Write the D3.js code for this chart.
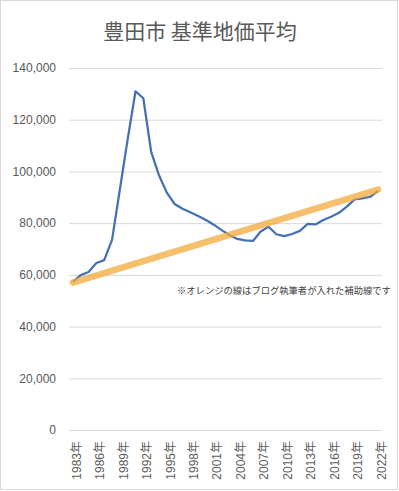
<!DOCTYPE html>
<html><head><meta charset="utf-8">
<script src="https://cdn.jsdelivr.net/npm/d3@7"></script>
<style>body{margin:0;background:#fff}svg{display:block}</style>
</head><body>
<svg id="c" width="399" height="491"></svg>
<script>
const years = d3.range(1983, 2023).map(y => y + "年");
const values = [57300, 59900, 61100, 64600, 65700, 73500, 93000, 112500, 131000, 128300,
  107600, 98500, 91800, 87400, 85600, 84200, 82800, 81200, 79400, 77300,
  75400, 73900, 73300, 73100, 76800, 78600, 75700, 75000, 75800, 77000,
  79700, 79500, 81200, 82500, 84000, 86400, 89200, 89600, 90200, 92500];
const trendStart = 57000, trendEnd = 93000;
const yTicks = [0, 20000, 40000, 60000, 80000, 100000, 120000, 140000];
const tickYears = d3.range(1983, 2023, 3).map(y => y + "年");
const title = "豊田市 基準地価平均";
const note = "※オレンジの線はブログ執筆者が入れた補助線です";

const svg = d3.select("#c");
const font = "'Liberation Sans','Noto Sans CJK JP',sans-serif";
svg.append("rect").attr("x",0.5).attr("y",0.5).attr("width",397).attr("height",489)
  .attr("fill","#fff").attr("stroke","#d9d9d9");

const L = 69, R = 382, T = 68, B = 430;
const x = d3.scaleBand().domain(years).range([L, R]);
const y = d3.scaleLinear().domain([0, 140000]).range([B, T]);
const cx = d => x(d) + x.bandwidth()/2;

svg.append("text").attr("x", 200).attr("y", 39).attr("text-anchor","middle")
  .attr("font-family","'Noto Sans CJK JP',sans-serif").attr("font-size",21)
  .attr("fill","#595959").text(title);

const yAxis = svg.append("g").attr("transform",`translate(${L},0)`)
  .call(d3.axisLeft(y).tickValues(yTicks).tickSize(-(R-L)).tickPadding(13)
    .tickFormat(d3.format(",")));
yAxis.select(".domain").remove();
yAxis.selectAll("line").attr("stroke","#d9d9d9");
yAxis.selectAll("text").attr("font-family",font).attr("font-size",12).attr("fill","#595959");

const xAxis = svg.append("g").attr("transform",`translate(3.5,${B})`)
  .call(d3.axisBottom(x).tickValues(tickYears).tickSize(0).tickPadding(0));
xAxis.select(".domain").remove();
xAxis.selectAll("text").attr("font-family",font).attr("font-size",12).attr("fill","#606060")
  .attr("text-anchor","end").attr("dy","0.35em")
  .attr("transform","translate(0,11) rotate(-90)").attr("x",0).attr("y",0);

const line = d3.line().x((d,i) => cx(years[i])).y(d => y(d));
svg.append("path").datum(values).attr("d", line).attr("fill","none")
  .attr("stroke","#4470b8").attr("stroke-width",2.25).attr("stroke-linejoin","round");

svg.append("line").attr("x1", cx(years[0])).attr("y1", y(trendStart))
  .attr("x2", cx(years[years.length-1])).attr("y2", y(trendEnd))
  .attr("stroke","#f2a93b").attr("stroke-opacity",0.75).attr("stroke-width",6.5)
  .attr("stroke-linecap","round");

svg.append("text").attr("x", 177).attr("y", 294)
  .attr("font-family","'Noto Sans CJK JP',sans-serif").attr("font-size",9.3)
  .attr("fill","#404040").text(note);
</script>
</body></html>
